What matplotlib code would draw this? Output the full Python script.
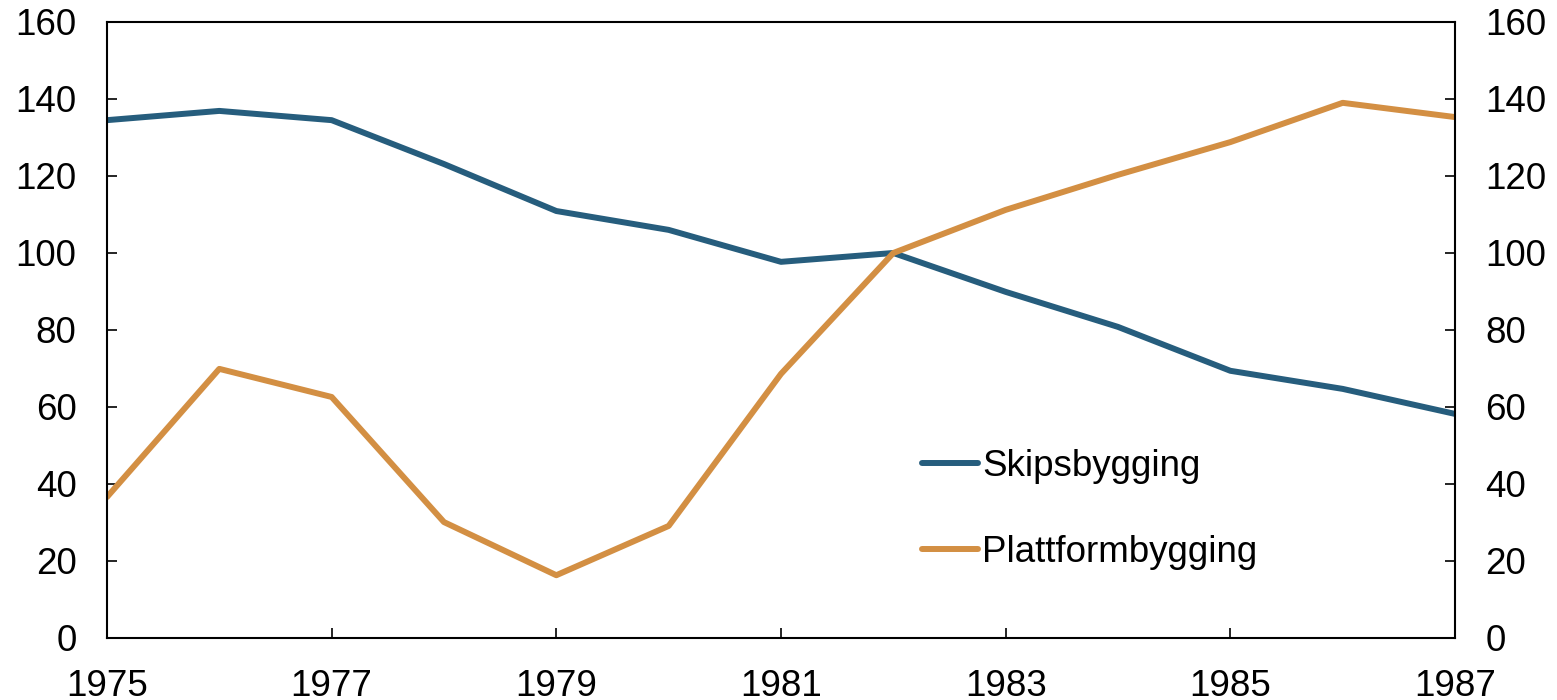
import matplotlib.pyplot as plt

plt.rcParams.update({
    "font.family": ["Liberation Sans", "DejaVu Sans"],
    "font.size": 26.5,
})

# data
years = list(range(1975, 1988))
skipsbygging = [134.5, 136.9, 134.5, 123.1, 110.9, 106.0, 97.7, 100.0,
                89.9, 80.8, 69.4, 64.7, 58.2]
plattformbygging = [36.6, 69.9, 62.6, 30.1, 16.3, 29.1, 68.6, 100.0,
                    111.2, 120.3, 128.8, 139.0, 135.3]
yticks = [0, 20, 40, 60, 80, 100, 120, 140, 160]
xticks = [1975, 1977, 1979, 1981, 1983, 1985, 1987]

fig = plt.figure(figsize=(15.57, 7), dpi=100)
ax = fig.add_axes([0.0687, 0.0886, 0.8658, 0.88])

ax.plot(years, skipsbygging, color="#265d7d", lw=4.3, label="Skipsbygging",
        solid_capstyle="round")
ax.plot(years, plattformbygging, color="#d38f43", lw=4.3, label="Plattformbygging",
        solid_capstyle="round")

ax.set_xlim(1975, 1987)
ax.set_ylim(0, 160)
ax.set_xticks(xticks)
ax.set_yticks(yticks)
ax.tick_params(direction="in", length=7, width=1.2, pad=22,
               right=True, labelright=True)
ax.tick_params(axis="x", pad=22)
for s in ax.spines.values():
    s.set_linewidth(1.5)

ax.legend(loc="upper left", bbox_to_anchor=(0.594, 0.331), frameon=False,
          handlelength=1.52, handletextpad=0.1, labelspacing=1.38,
          borderaxespad=0)

fig.savefig("out.png", dpi=100)
